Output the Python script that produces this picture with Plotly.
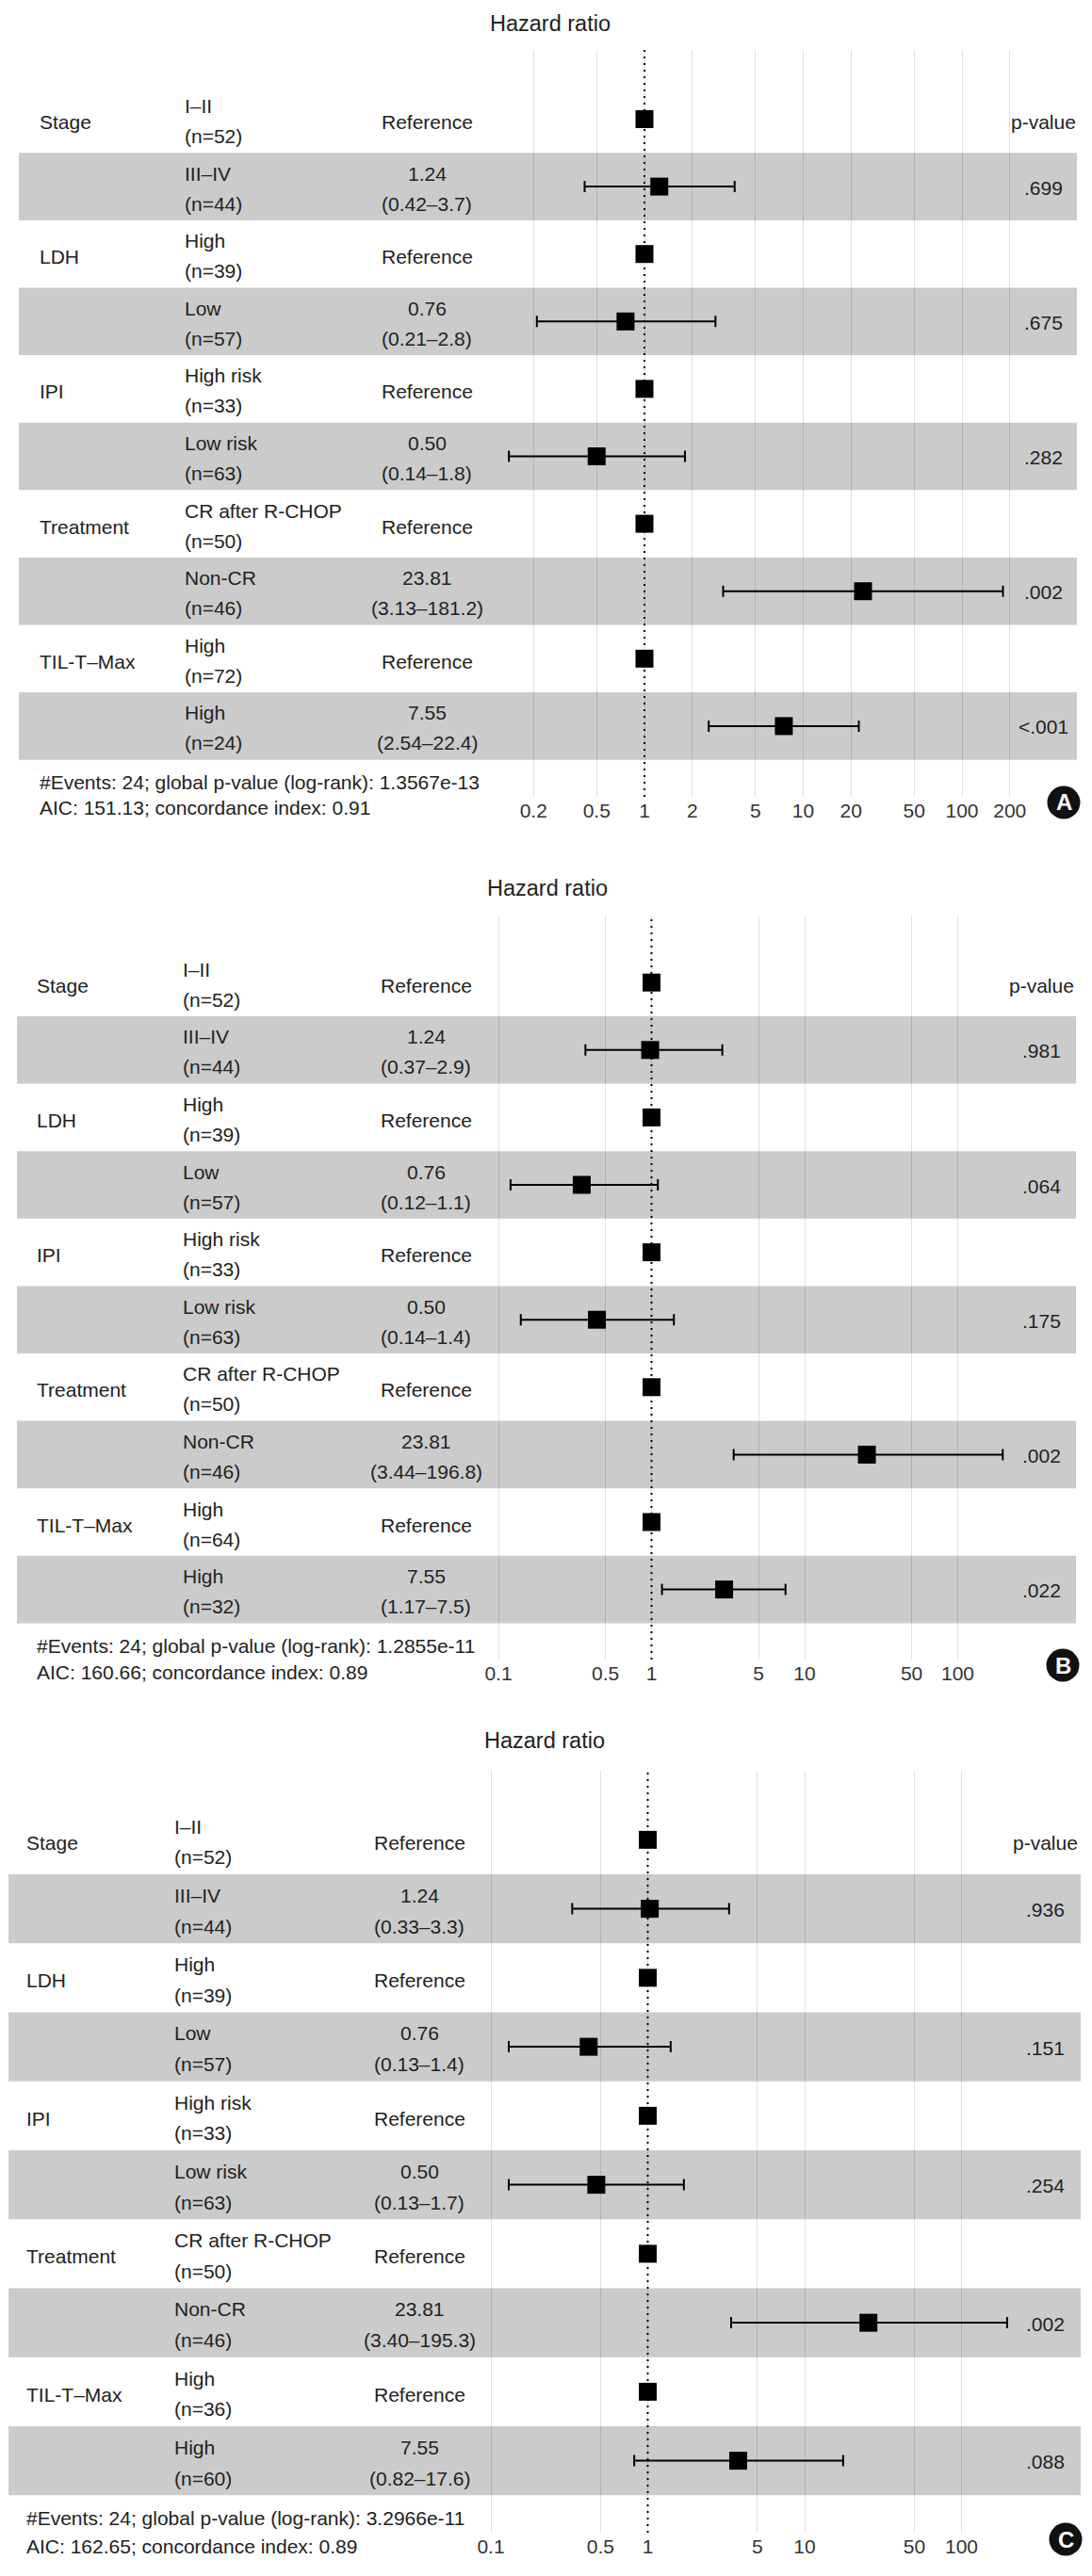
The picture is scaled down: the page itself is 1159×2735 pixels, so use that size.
import plotly.graph_objects as go

W, H = 1159, 2735

# ---------------- data ----------------
rows = list(range(1, 11))
group_labels = ["Stage", "", "LDH", "", "IPI", "", "Treatment", "", "TIL-T–Max", ""]
level_labels = ["I–II", "III–IV", "High", "Low", "High risk", "Low risk",
                "CR after R-CHOP", "Non-CR", "High", "High"]
hr_labels = ["Reference", "1.24", "Reference", "0.76", "Reference", "0.50",
             "Reference", "23.81", "Reference", "7.55"]

n_A = [52, 44, 39, 57, 33, 63, 50, 46, 72, 24]
n_B = [52, 44, 39, 57, 33, 63, 50, 46, 64, 32]
n_C = [52, 44, 39, 57, 33, 63, 50, 46, 36, 60]

ci_A = [None, "(0.42–3.7)", None, "(0.21–2.8)", None, "(0.14–1.8)", None, "(3.13–181.2)", None, "(2.54–22.4)"]
ci_B = [None, "(0.37–2.9)", None, "(0.12–1.1)", None, "(0.14–1.4)", None, "(3.44–196.8)", None, "(1.17–7.5)"]
ci_C = [None, "(0.33–3.3)", None, "(0.13–1.4)", None, "(0.13–1.7)", None, "(3.40–195.3)", None, "(0.82–17.6)"]

p_A = [None, ".699", None, ".675", None, ".282", None, ".002", None, "<.001"]
p_B = [None, ".981", None, ".064", None, ".175", None, ".002", None, ".022"]
p_C = [None, ".936", None, ".151", None, ".254", None, ".002", None, ".088"]

# plotted estimates (as drawn)
est_A = [1, 1.24, 1, 0.76, 1, 0.50, 1, 23.81, 1, 7.55]
lo_A = [None, 0.42, None, 0.21, None, 0.14, None, 3.13, None, 2.54]
hi_A = [None, 3.7, None, 2.8, None, 1.8, None, 181.2, None, 22.4]

est_B = [1, 0.98, 1, 0.35, 1, 0.44, 1, 25.5, 1, 2.98]
lo_B = [None, 0.37, None, 0.12, None, 0.14, None, 3.44, None, 1.17]
hi_B = [None, 2.9, None, 1.1, None, 1.4, None, 196.8, None, 7.5]

est_C = [1, 1.03, 1, 0.42, 1, 0.47, 1, 25.5, 1, 3.77]
lo_C = [None, 0.33, None, 0.13, None, 0.13, None, 3.40, None, 0.82]
hi_C = [None, 3.3, None, 1.4, None, 1.7, None, 195.3, None, 17.6]

ticks_A = [0.2, 0.5, 1, 2, 5, 10, 20, 50, 100, 200]
ticks_BC = [0.1, 0.5, 1, 5, 10, 50, 100]

footer_A = ["#Events: 24; global p-value (log-rank): 1.3567e-13", "AIC: 151.13; concordance index: 0.91"]
footer_B = ["#Events: 24; global p-value (log-rank): 1.2855e-11", "AIC: 160.66; concordance index: 0.89"]
footer_C = ["#Events: 24; global p-value (log-rank): 3.2966e-11", "AIC: 162.65; concordance index: 0.89"]

REF_HR = 1
TITLE = "Hazard ratio"
P_HEADER = "p-value"

# ---------------- layout geometry (pixels) ----------------
panels = [
    dict(letter="A", n=n_A, ci=ci_A, p=p_A, est=est_A, lo=lo_A, hi=hi_A, ticks=ticks_A, footer=footer_A,
         title_y=25, title_cx=584, top=53, bot=846, row1_top=90.7, row_h=71.6, x1=684, b=168.5,
         band_x0=20, band_x1=1143, group_x=40, sub_x=194, val_cx=453, p_cx=1107,
         foot1=830, foot2=857, badge=(1129, 852)),
    dict(letter="B", n=n_B, ci=ci_B, p=p_B, est=est_B, lo=lo_B, hi=hi_B, ticks=ticks_BC, footer=footer_B,
         title_y=943, title_cx=581, top=972, bot=1762, row1_top=1007.4, row_h=71.6, x1=691.5, b=162.5,
         band_x0=18, band_x1=1142, group_x=37, sub_x=192, val_cx=452, p_cx=1105,
         foot1=1747, foot2=1775, badge=(1128, 1768)),
    dict(letter="C", n=n_C, ci=ci_C, p=p_C, est=est_C, lo=lo_C, hi=hi_C, ticks=ticks_BC, footer=footer_C,
         title_y=1848, title_cx=578, top=1880, bot=2689, row1_top=1916.75, row_h=73.25, x1=687.5, b=166.5,
         band_x0=9, band_x1=1147, group_x=26, sub_x=183, val_cx=445, p_cx=1109,
         foot1=2673, foot2=2703, badge=(1131, 2696)),
]

FONT = "Liberation Sans, Arial, Helvetica, sans-serif"
TXT = "#222222"
FS = 21


def px(x):
    return x / W


def py(y):
    return 1 - y / H


fig = go.Figure()
annotations = []
shapes = []
layout_axes = {}

for k, P in enumerate(panels, start=1):
    xa = "x" if k == 1 else f"x{k}"
    ya = "y" if k == 1 else f"y{k}"
    xname = "xaxis" if k == 1 else f"xaxis{k}"
    yname = "yaxis" if k == 1 else f"yaxis{k}"
    s = P["row_h"] / 71.6

    def row_of(pxv, P=P):
        return (pxv - P["row1_top"]) / P["row_h"] + 0.5

    layout_axes[xname] = dict(
        type="log", domain=[0, 1], anchor=ya,
        range=[(0 - P["x1"]) / P["b"], (W - P["x1"]) / P["b"]],
        tickvals=P["ticks"], ticktext=[f"{t:g}" for t in P["ticks"]],
        showgrid=True, gridcolor="rgba(0,0,0,0.12)", gridwidth=1,
        zeroline=False, showline=False, ticks="", automargin=False,
        tickfont=dict(family=FONT, size=FS, color="#333333"),
        fixedrange=True,
    )
    layout_axes[yname] = dict(
        domain=[py(P["bot"]), py(P["top"])], anchor=xa,
        range=[row_of(P["bot"]), row_of(P["top"])],
        visible=False, showgrid=False, zeroline=False, automargin=False, fixedrange=True,
    )

    # bands on even rows
    for r in rows:
        if r % 2 == 0:
            shapes.append(dict(type="rect", xref="paper", yref=ya,
                               x0=px(P["band_x0"]), x1=px(P["band_x1"]),
                               y0=r - 0.5, y1=r + 0.5,
                               fillcolor="#cbcbcb", line=dict(width=0), layer="below"))
    # reference dotted line
    shapes.append(dict(type="line", xref=xa, yref=f"{ya} domain",
                       x0=REF_HR, x1=REF_HR, y0=0, y1=1,
                       line=dict(color="black", width=2, dash="2px,5px")))

    # estimates with CIs
    plus = [(h - e) if h is not None else None for e, h in zip(P["est"], P["hi"])]
    minus = [(e - l) if l is not None else None for e, l in zip(P["est"], P["lo"])]
    fig.add_trace(go.Scatter(
        x=P["est"], y=rows, xaxis=xa, yaxis=ya, mode="markers",
        marker=dict(symbol="square", size=19, color="black", line=dict(width=0)),
        error_x=dict(type="data", symmetric=False, array=plus, arrayminus=minus,
                     color="black", thickness=2, width=6),
        hoverinfo="skip", showlegend=False,
    ))

    # title
    annotations.append(dict(text=TITLE, xref="paper", yref="paper", x=px(P["title_cx"]), y=py(P["title_y"]),
                            xanchor="center", yanchor="middle", showarrow=False,
                            font=dict(family=FONT, size=23.5, color=TXT)))

    for i, r in enumerate(rows):
        # group label
        if group_labels[i]:
            annotations.append(dict(text=group_labels[i], xref="paper", yref=ya, x=px(P["group_x"]), y=r,
                                    yshift=-3, xanchor="left", yanchor="middle", showarrow=False,
                                    font=dict(family=FONT, size=FS, color=TXT)))
        # level + n
        annotations.append(dict(text=level_labels[i], xref="paper", yref=ya, x=px(P["sub_x"]), y=r,
                                yshift=14 * s, xanchor="left", yanchor="middle", showarrow=False,
                                font=dict(family=FONT, size=FS, color=TXT)))
        annotations.append(dict(text=f"(n={P['n'][i]})", xref="paper", yref=ya, x=px(P["sub_x"]), y=r,
                                yshift=-18 * s, xanchor="left", yanchor="middle", showarrow=False,
                                font=dict(family=FONT, size=FS, color=TXT)))
        # estimate column
        if P["ci"][i] is None:
            annotations.append(dict(text=hr_labels[i], xref="paper", yref=ya, x=px(P["val_cx"]), y=r,
                                    yshift=-3, xanchor="center", yanchor="middle", showarrow=False,
                                    font=dict(family=FONT, size=FS, color=TXT)))
        else:
            annotations.append(dict(text=hr_labels[i], xref="paper", yref=ya, x=px(P["val_cx"]), y=r,
                                    yshift=14 * s, xanchor="center", yanchor="middle", showarrow=False,
                                    font=dict(family=FONT, size=FS, color=TXT)))
            annotations.append(dict(text=P["ci"][i], xref="paper", yref=ya, x=px(P["val_cx"]), y=r,
                                    yshift=-18 * s, xanchor="center", yanchor="middle", showarrow=False,
                                    font=dict(family=FONT, size=FS, color=TXT)))
        # p-value column
        ptxt = P_HEADER if i == 0 else P["p"][i]
        if ptxt:
            annotations.append(dict(text=ptxt, xref="paper", yref=ya, x=px(P["p_cx"]), y=r,
                                    yshift=-3 if i == 0 else -1, xanchor="center", yanchor="middle",
                                    showarrow=False, font=dict(family=FONT, size=FS, color=TXT)))

    # footer
    for line, yy in zip(P["footer"], [P["foot1"], P["foot2"]]):
        annotations.append(dict(text=line, xref="paper", yref="paper", x=px(P["group_x"]), y=py(yy),
                                xanchor="left", yanchor="middle", showarrow=False,
                                font=dict(family=FONT, size=FS, color=TXT)))
    # panel badge
    bx, by = P["badge"]
    rr = 17.5
    shapes.append(dict(type="circle", xref="paper", yref="paper",
                       x0=px(bx - rr), x1=px(bx + rr), y0=py(by + rr), y1=py(by - rr),
                       fillcolor="#111111", line=dict(width=0)))
    annotations.append(dict(text=f"<b>{P['letter']}</b>", xref="paper", yref="paper", x=px(bx), y=py(by),
                            xanchor="center", yanchor="middle", showarrow=False,
                            font=dict(family=FONT, size=24, color="white")))

fig.update_layout(
    template="none",
    width=W, height=H, autosize=False,
    margin=dict(l=0, r=0, t=0, b=0, pad=0),
    paper_bgcolor="white", plot_bgcolor="rgba(0,0,0,0)",
    showlegend=False, hovermode=False,
    font=dict(family=FONT, size=FS, color=TXT),
    annotations=annotations, shapes=shapes,
    **layout_axes,
)

fig.write_html("out.html", config={"displayModeBar": False, "staticPlot": True},
               post_script="document.body.style.margin='0';")
